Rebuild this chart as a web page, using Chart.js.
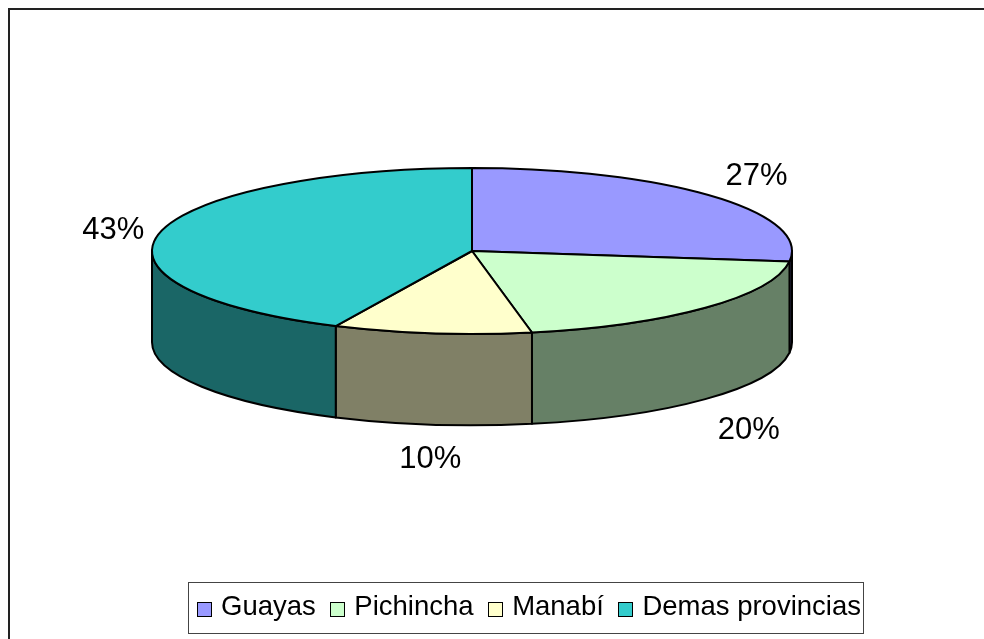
<!DOCTYPE html>
<html>
<head>
<meta charset="utf-8">
<script src="https://cdn.jsdelivr.net/npm/chart.js@4"></script>
<style>
  html, body { margin: 0; padding: 0; background: #fff; overflow: hidden; }
  #wrap { position: relative; width: 984px; height: 639px; }
  #frame { position: absolute; left: 8px; top: 8px; width: 1000px; height: 700px; border: 2px solid #222; }
  #pie { position: absolute; left: 0; top: 0; }
  #legend {
    position: absolute; left: 188px; top: 582px; width: 664px; height: 46px;
    padding: 0 2px 4px 8px;
    border: 1px solid #444; display: flex; align-items: center; justify-content: space-between;
    font-family: "Liberation Sans", Arial, sans-serif; font-size: 27.5px; color: #000;
    white-space: nowrap;
  }
  #legend .item { display: flex; align-items: center; }
  #legend .box { width: 13px; height: 13px; border: 1.5px solid #000; margin-right: 9px; margin-top: 6px; }
</style>
</head>
<body>
<div id="wrap">
  <div id="frame"></div>
  <canvas id="pie" width="984" height="639"></canvas>
  <div id="legend"></div>
</div>
<script>
// Datos
const categories = ["Guayas", "Pichincha", "Manabí", "Demas provincias"];
const values = [27, 20, 10, 43];
const topColors = ["#9999FF", "#CCFFCC", "#FFFFCC", "#33CCCC"];
const sideColors = ["#4D4D80", "#668066", "#808066", "#1A6666"];

// Pastel 3D dibujado a partir de los arcos que calcula Chart.js
const pie3d = {
  id: "pie3d",
  beforeDatasetsDraw(chart) {
    const ctx = chart.ctx;
    const area = chart.chartArea;
    const arcs = chart.getDatasetMeta(0).data;
    const rx = (area.right - area.left) / 2;
    const ry = (area.bottom - area.top) / 2;
    const depth = ry * 1.1;
    const total = values.reduce((a, b) => a + b, 0);

    ctx.save();
    ctx.lineWidth = 2;
    ctx.strokeStyle = "#000";
    ctx.lineJoin = "round";

    // paredes laterales (mitad frontal)
    arcs.forEach((arc, i) => {
      const s = Math.max(arc.startAngle, 0);
      const e = Math.min(arc.endAngle, Math.PI);
      if (s >= e) return;
      ctx.beginPath();
      ctx.ellipse(arc.x, arc.y, rx, ry, 0, s, e);
      ctx.lineTo(arc.x + rx * Math.cos(e), arc.y + depth + ry * Math.sin(e));
      ctx.ellipse(arc.x, arc.y + depth, rx, ry, 0, e, s, true);
      ctx.closePath();
      ctx.fillStyle = sideColors[i];
      ctx.fill();
      ctx.stroke();
    });

    // caras superiores
    arcs.forEach((arc, i) => {
      ctx.beginPath();
      ctx.moveTo(arc.x, arc.y);
      ctx.ellipse(arc.x, arc.y, rx, ry, 0, arc.startAngle, arc.endAngle);
      ctx.closePath();
      ctx.fillStyle = topColors[i];
      ctx.fill();
      ctx.stroke();
    });

    // etiquetas de porcentaje
    ctx.fillStyle = "#000";
    ctx.font = "31px 'Liberation Sans', Arial, sans-serif";
    ctx.textAlign = "center";
    ctx.textBaseline = "middle";
    arcs.forEach((arc, i) => {
      const mid = (arc.startAngle + arc.endAngle) / 2;
      const front = Math.sin(mid) > 0;
      const lx = arc.x + 5 + rx * 1.165 * Math.cos(mid);
      const ly = front
        ? arc.y + depth + ry * 1.14 * Math.sin(mid) + 23
        : arc.y + ry * 1.475 * Math.sin(mid) + 6;
      const pct = Math.round(values[i] / total * 100) + "%";
      ctx.fillText(pct, lx, ly);
    });

    ctx.restore();
    return false;
  }
};

new Chart(document.getElementById("pie"), {
  type: "pie",
  data: {
    labels: categories,
    datasets: [{
      data: values,
      backgroundColor: topColors,
      borderColor: "#000",
      borderWidth: 2
    }]
  },
  options: {
    responsive: false,
    animation: false,
    layout: { padding: { left: 152, right: 192, top: 168, bottom: 305 } },
    plugins: {
      legend: { display: false },
      tooltip: { enabled: false }
    }
  },
  plugins: [pie3d]
});

// Leyenda
const legend = document.getElementById("legend");
categories.forEach((name, i) => {
  const item = document.createElement("div");
  item.className = "item";
  const box = document.createElement("span");
  box.className = "box";
  box.style.background = topColors[i];
  const label = document.createElement("span");
  label.textContent = name;
  item.appendChild(box);
  item.appendChild(label);
  legend.appendChild(item);
});
</script>
</body>
</html>
